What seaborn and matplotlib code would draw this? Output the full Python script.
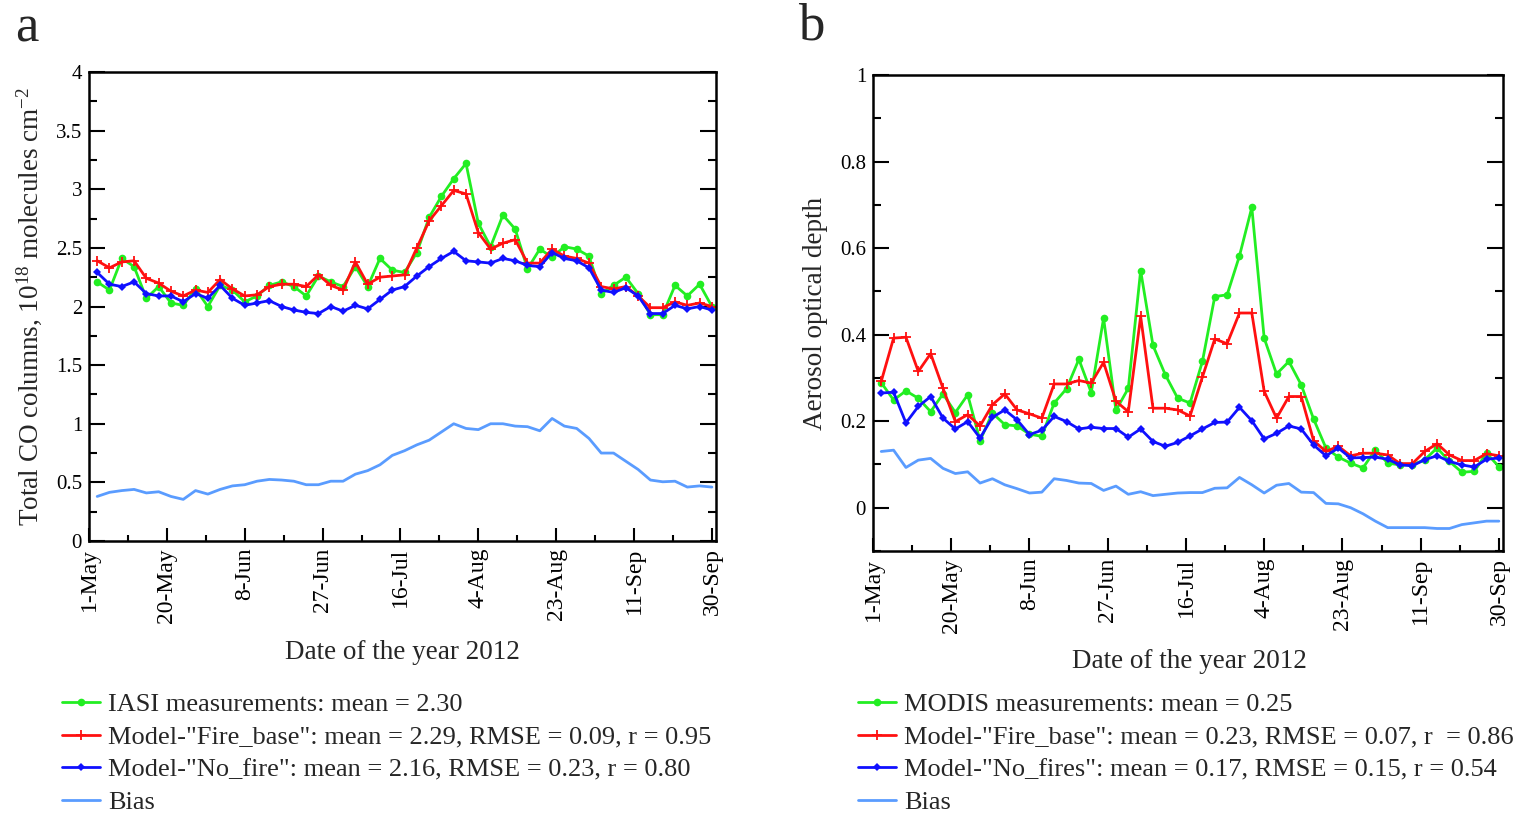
import numpy as np
import pandas as pd
import matplotlib
matplotlib.use("Agg")
import matplotlib.pyplot as plt
from matplotlib.ticker import MultipleLocator, FuncFormatter
import seaborn as sns

# ---------------- data ----------------
first_date = "2012-05-03"
n_points = 51
step = "3D"

xtick_start = "2012-05-01"
xtick_labels = ["1-May", "20-May", "8-Jun", "27-Jun", "16-Jul", "4-Aug", "23-Aug", "11-Sep", "30-Sep"]

# Panel a: total CO columns (1e18 molecules cm-2)
iasi = [2.21, 2.14, 2.41, 2.34, 2.07, 2.17, 2.03, 2.01, 2.15, 2.00,
        2.18, 2.14, 2.04, 2.09, 2.18, 2.21, 2.17, 2.09, 2.26, 2.21,
        2.17, 2.34, 2.17, 2.41, 2.31, 2.29, 2.46, 2.76, 2.94, 3.09,
        3.22, 2.71, 2.51, 2.78, 2.66, 2.32, 2.49, 2.42, 2.51, 2.49,
        2.43, 2.11, 2.18, 2.25, 2.11, 1.93, 1.93, 2.18, 2.09, 2.19, 2.00]
co_fire = [2.39, 2.33, 2.38, 2.39, 2.24, 2.20, 2.13, 2.09, 2.14, 2.12,
           2.23, 2.15, 2.09, 2.10, 2.17, 2.19, 2.19, 2.17, 2.27, 2.18,
           2.14, 2.38, 2.19, 2.25, 2.26, 2.27, 2.50, 2.73, 2.86, 2.99,
           2.96, 2.63, 2.49, 2.54, 2.57, 2.37, 2.37, 2.49, 2.43, 2.41,
           2.37, 2.17, 2.15, 2.17, 2.09, 1.99, 1.99, 2.04, 2.01, 2.03, 2.00]
co_nofire = [2.29, 2.19, 2.17, 2.21, 2.11, 2.09, 2.09, 2.04, 2.11, 2.07,
             2.18, 2.07, 2.01, 2.03, 2.05, 2.00, 1.97, 1.95, 1.94, 2.00,
             1.96, 2.01, 1.98, 2.06, 2.14, 2.17, 2.26, 2.34, 2.41, 2.47,
             2.39, 2.38, 2.37, 2.41, 2.39, 2.35, 2.34, 2.46, 2.41, 2.39,
             2.33, 2.14, 2.12, 2.16, 2.09, 1.94, 1.94, 2.01, 1.98, 2.00, 1.97]
co_bias = [0.38, 0.415, 0.43, 0.44, 0.41, 0.42, 0.38, 0.355, 0.43, 0.40,
           0.44, 0.47, 0.48, 0.51, 0.525, 0.52, 0.51, 0.48, 0.48, 0.51,
           0.51, 0.57, 0.60, 0.65, 0.73, 0.77, 0.82, 0.86, 0.93, 1.00,
           0.96, 0.95, 1.00, 1.00, 0.98, 0.975, 0.94, 1.045, 0.98, 0.96,
           0.875, 0.75, 0.75, 0.68, 0.61, 0.52, 0.505, 0.51, 0.46, 0.47, 0.46]

# Panel b: aerosol optical depth
modis = [0.289, 0.249, 0.270, 0.253, 0.222, 0.263, 0.220, 0.261, 0.155, 0.219,
         0.192, 0.189, 0.170, 0.165, 0.242, 0.275, 0.343, 0.266, 0.438, 0.225,
         0.276, 0.548, 0.375, 0.307, 0.253, 0.242, 0.338, 0.488, 0.492, 0.582,
         0.694, 0.392, 0.309, 0.338, 0.284, 0.205, 0.138, 0.117, 0.103, 0.092,
         0.134, 0.103, 0.099, 0.099, 0.111, 0.138, 0.107, 0.082, 0.084, 0.126, 0.095]
aod_fire = [0.292, 0.392, 0.394, 0.315, 0.356, 0.276, 0.199, 0.215, 0.189, 0.238,
            0.263, 0.226, 0.217, 0.207, 0.286, 0.286, 0.294, 0.288, 0.336, 0.246,
            0.222, 0.442, 0.230, 0.230, 0.226, 0.212, 0.302, 0.390, 0.379, 0.450,
            0.450, 0.269, 0.207, 0.257, 0.257, 0.155, 0.130, 0.142, 0.120, 0.126,
            0.126, 0.122, 0.102, 0.102, 0.130, 0.148, 0.122, 0.109, 0.109, 0.125, 0.120]
aod_nofire = [0.265, 0.267, 0.196, 0.234, 0.257, 0.207, 0.182, 0.199, 0.161, 0.209,
              0.226, 0.203, 0.169, 0.179, 0.211, 0.199, 0.182, 0.186, 0.183, 0.183,
              0.163, 0.182, 0.153, 0.142, 0.151, 0.166, 0.182, 0.197, 0.198, 0.232,
              0.201, 0.159, 0.172, 0.189, 0.182, 0.145, 0.120, 0.138, 0.115, 0.116,
              0.117, 0.112, 0.099, 0.097, 0.111, 0.120, 0.107, 0.099, 0.094, 0.112, 0.115]
aod_bias = [0.130, 0.133, 0.093, 0.110, 0.114, 0.091, 0.079, 0.083, 0.057, 0.067,
            0.053, 0.044, 0.034, 0.036, 0.067, 0.063, 0.057, 0.056, 0.040, 0.050,
            0.031, 0.037, 0.028, 0.031, 0.034, 0.035, 0.035, 0.045, 0.046, 0.070,
            0.053, 0.034, 0.052, 0.056, 0.036, 0.035, 0.010, 0.009, 0.000, -0.014,
            -0.031, -0.046, -0.046, -0.046, -0.046, -0.048, -0.048, -0.039, -0.035, -0.031, -0.031]

labels_a = ["IASI measurements: mean = 2.30",
            'Model-"Fire_base": mean = 2.29, RMSE = 0.09, r = 0.95',
            'Model-"No_fire": mean = 2.16, RMSE = 0.23, r = 0.80',
            "Bias"]
labels_b = ["MODIS measurements: mean = 0.25",
            'Model-"Fire_base": mean = 0.23, RMSE = 0.07, r  = 0.86',
            'Model-"No_fires": mean = 0.17, RMSE = 0.15, r = 0.54',
            "Bias"]

ylabel_a = r"Total CO columns, 10$^{18}$ molecules cm$^{-2}$"
ylabel_b = "Aerosol optical depth"
xlabel = "Date of the year 2012"

# ---------------- style ----------------
sns.set_theme(style="ticks")
plt.rcParams["font.family"] = ["Liberation Serif", "DejaVu Serif"]
plt.rcParams["mathtext.fontset"] = "custom"
plt.rcParams["mathtext.rm"] = "Liberation Serif"
plt.rcParams["mathtext.it"] = "Liberation Serif:italic"
plt.rcParams["axes.unicode_minus"] = False

C_OBS = "#22EE22"
C_FIRE = "#FF1010"
C_NOFIRE = "#1010FF"
C_BIAS = "#5A9CFF"

dates = pd.date_range(first_date, periods=n_points, freq=step)
xticks = pd.date_range(xtick_start, periods=len(xtick_labels), freq="19D")
xminor = xticks[:-1] + pd.Timedelta(hours=19 * 12)

W, H = 1519, 814
fig = plt.figure(figsize=(W / 100, H / 100), dpi=100)


def px_axes(left, top, right, bottom):
    return fig.add_axes([left / W, 1 - bottom / H, (right - left) / W, (bottom - top) / H])


ax_a = px_axes(89, 72, 716, 541)
ax_b = px_axes(873, 75, 1503, 551)


def draw(ax, obs, fire, nofire, bias, labels):
    sns.lineplot(x=dates, y=obs, ax=ax, color=C_OBS, lw=2.0, marker="o", markersize=5.5,
                 markeredgewidth=0, markeredgecolor=C_OBS, markerfacecolor=C_OBS, label=labels[0])
    sns.lineplot(x=dates, y=fire, ax=ax, color=C_FIRE, lw=2.0, marker="+", markersize=7.5,
                 markeredgewidth=1.3, markeredgecolor=C_FIRE, label=labels[1])
    sns.lineplot(x=dates, y=nofire, ax=ax, color=C_NOFIRE, lw=2.0, marker="D", markersize=3.8,
                 markeredgewidth=0, markeredgecolor=C_NOFIRE, markerfacecolor=C_NOFIRE,
                 label=labels[2])
    sns.lineplot(x=dates, y=bias, ax=ax, color=C_BIAS, lw=2.0, label=labels[3])


draw(ax_a, iasi, co_fire, co_nofire, co_bias, labels_a)
draw(ax_b, modis, aod_fire, aod_nofire, aod_bias, labels_b)

fmt = FuncFormatter(lambda v, p: f"{v:g}")
for ax, ylim, major, minor in [(ax_a, (0, 4), 0.5, 0.25), (ax_b, (-0.1, 1.0), 0.2, 0.1)]:
    ax.set_xlim(pd.Timestamp("2012-05-01"), pd.Timestamp("2012-10-01"))
    ax.set_ylim(*ylim)
    ax.yaxis.set_major_locator(MultipleLocator(major))
    ax.yaxis.set_minor_locator(MultipleLocator(minor))
    ax.yaxis.set_major_formatter(fmt)
    ax.set_xticks(xticks)
    ax.set_xticklabels(xtick_labels, rotation=90)
    ax.set_xticks(xminor, minor=True)
    for s in ax.spines.values():
        s.set_linewidth(1.8)
        s.set_color("black")
        s.set_visible(True)
    ax.tick_params(axis="y", which="both", direction="in", left=True, right=True,
                   width=1.5, colors="black", labelsize=15, pad=5)
    ax.tick_params(axis="y", which="major", length=11.5)
    ax.tick_params(axis="y", which="minor", length=6)
    ax.tick_params(axis="x", which="both", direction="in", bottom=True, top=False,
                   width=1.5, colors="black", labelsize=17, pad=5)
    ax.tick_params(axis="x", which="major", length=9.5)
    ax.tick_params(axis="x", which="minor", length=4)
    ax.set_xlabel(xlabel, fontsize=19.5)
    ax.grid(False)
    ax.get_legend().remove()

ax_a.set_ylabel(ylabel_a, fontsize=19.5)
ax_b.set_ylabel(ylabel_b, fontsize=19.5)
ax_a.yaxis.set_label_coords(-0.072, 0.5)
ax_b.yaxis.set_label_coords(-0.071, 0.5)
ax_a.xaxis.set_label_coords(0.5, -0.212)
ax_b.xaxis.set_label_coords(0.503, -0.206)

for ax, xpos in [(ax_a, 62), (ax_b, 858)]:
    h, l = ax.get_legend_handles_labels()
    ax.legend(h, l, loc="upper left", bbox_to_anchor=(xpos / W, 1 - 693 / H),
              bbox_transform=fig.transFigure, frameon=False, borderpad=0,
              borderaxespad=0, handlelength=1.45, handletextpad=0.3,
              labelspacing=0.34, fontsize=19)

fig.text(15 / W, 1 - 4 / H, "a", fontsize=38, va="top", ha="left")
fig.text(798 / W, 1 - 2 / H, "b", fontsize=38, va="top", ha="left")

fig.savefig("out.png", dpi=100)
